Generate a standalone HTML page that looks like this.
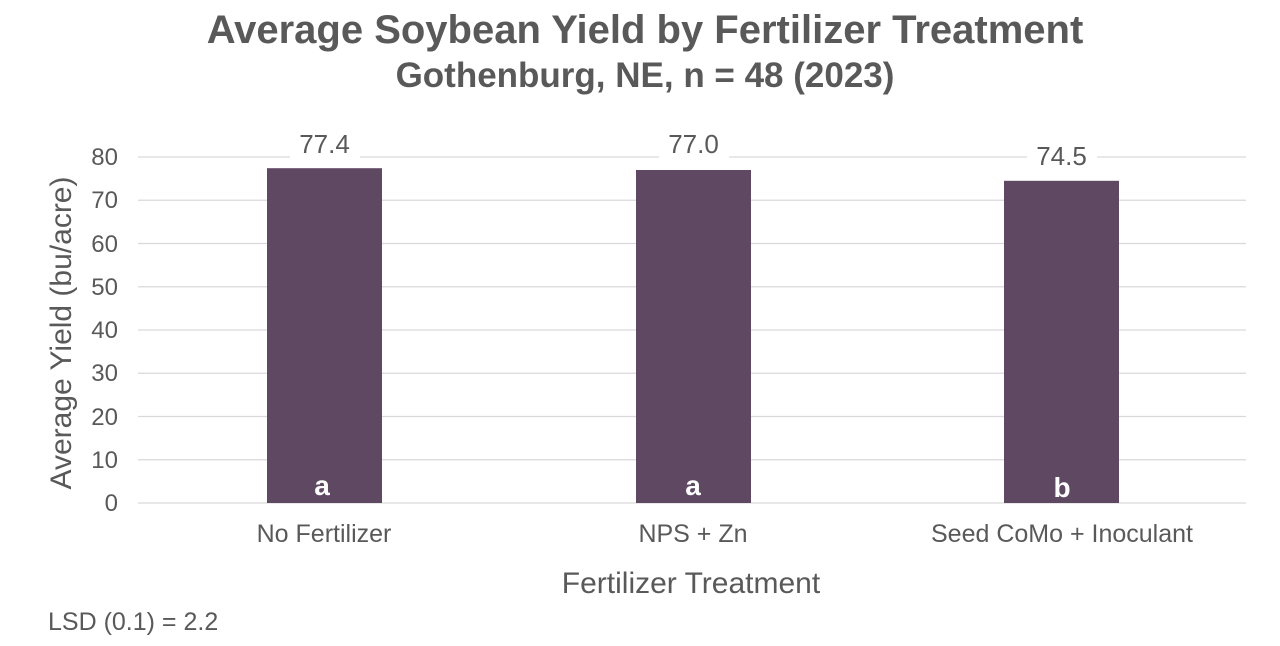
<!DOCTYPE html>
<html><head><meta charset="utf-8"><style>
body{margin:0;background:#fff;}
svg text{font-family:"Liberation Sans",Arial,sans-serif;}
</style></head><body>
<svg width="1280" height="641" xmlns="http://www.w3.org/2000/svg">
<rect width="1280" height="641" fill="#fff"/>
<text x="645" y="43" text-anchor="middle" font-size="40" font-weight="bold" fill="#595959">Average Soybean Yield by Fertilizer Treatment</text>
<text x="645" y="87" text-anchor="middle" font-size="35" font-weight="bold" fill="#595959">Gothenburg, NE, n = 48 (2023)</text>
<g stroke="#d9d9d9" stroke-width="1.3">
<line x1="138" x2="1246" y1="157" y2="157"/>
<line x1="138" x2="1246" y1="200.25" y2="200.25"/>
<line x1="138" x2="1246" y1="243.5" y2="243.5"/>
<line x1="138" x2="1246" y1="286.75" y2="286.75"/>
<line x1="138" x2="1246" y1="330" y2="330"/>
<line x1="138" x2="1246" y1="373.25" y2="373.25"/>
<line x1="138" x2="1246" y1="416.5" y2="416.5"/>
<line x1="138" x2="1246" y1="459.75" y2="459.75"/>
<line x1="138" x2="1246" y1="503" y2="503"/>
</g>
<g font-size="24" fill="#595959" text-anchor="end">
<text x="118" y="165">80</text><text x="118" y="208">70</text><text x="118" y="252">60</text>
<text x="118" y="295">50</text><text x="118" y="338">40</text><text x="118" y="381">30</text>
<text x="118" y="425">20</text><text x="118" y="468">10</text><text x="118" y="511">0</text>
</g>
<g fill="#5e4862">
<rect x="267" y="168.2" width="115" height="334.8"/>
<rect x="636" y="170" width="115" height="333"/>
<rect x="1004" y="180.8" width="115" height="322.2"/>
</g>
<g fill="#fff">
<rect x="290" y="128" width="70" height="32"/>
<rect x="659" y="128" width="70" height="32"/>
<rect x="1027" y="140" width="70" height="32"/>
</g>
<g font-size="26" fill="#595959" text-anchor="middle">
<text x="324.5" y="153">77.4</text>
<text x="693.5" y="153">77.0</text>
<text x="1061.5" y="165">74.5</text>
</g>
<g font-size="28" font-weight="bold" fill="#fff" text-anchor="middle">
<text x="322" y="495">a</text><text x="693" y="495">a</text><text x="1062" y="497">b</text>
</g>
<g font-size="25" fill="#595959" text-anchor="middle">
<text x="324" y="542">No Fertilizer</text>
<text x="693" y="542">NPS + Zn</text>
<text x="1062" y="542">Seed CoMo + Inoculant</text>
</g>
<text x="691" y="593" text-anchor="middle" font-size="30" fill="#595959">Fertilizer Treatment</text>
<text transform="translate(71,333) rotate(-90)" text-anchor="middle" font-size="30" fill="#595959">Average Yield (bu/acre)</text>
<text x="48" y="630" font-size="25" fill="#595959">LSD (0.1) = 2.2</text>
</svg>
</body></html>
